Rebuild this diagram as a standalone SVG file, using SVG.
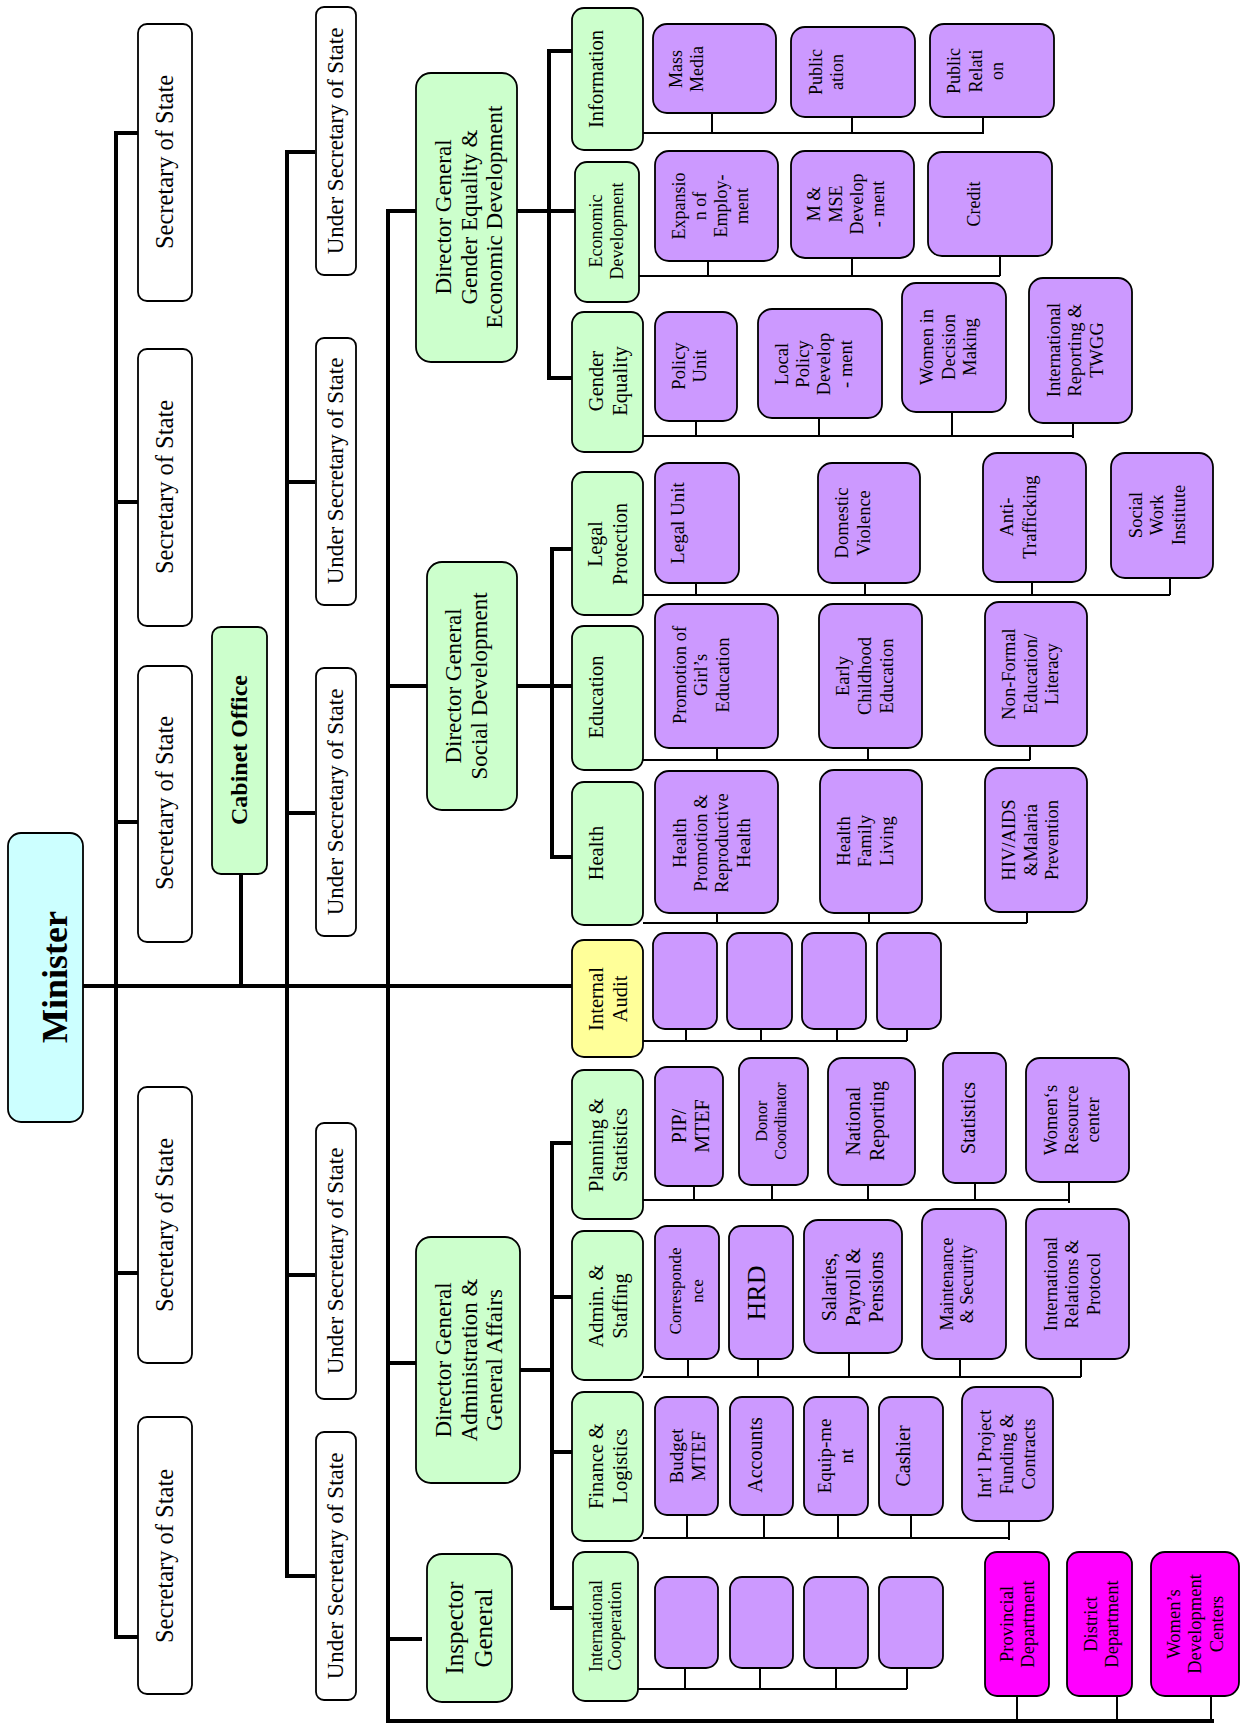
<svg xmlns="http://www.w3.org/2000/svg" width="1242" height="1724" viewBox="0 0 1242 1724">
<style>
rect{stroke:#000;stroke-width:1.8}
.w{fill:#fff}.g{fill:#CCFFCC}.p{fill:#CC99FF}.y{fill:#FFFF99}.c{fill:#CCFFCC}.m{fill:#FF00FF}
.c{fill:#CCFFFF}
text{font-family:"Liberation Serif","Times New Roman",serif;text-anchor:middle;fill:#000}
.b{font-weight:bold}
.thick{stroke:#000;stroke-width:4;fill:none;stroke-linecap:square}
.thin{stroke:#000;stroke-width:2;fill:none}
</style>
<rect width="1242" height="1724" style="fill:#fff;stroke:none"/>
<g id="connectors">
<path class="thick" d="M83,986H572"/>
<path class="thick" d="M138,133H116V1637H138M116,502H138M116,822H138M116,1273H138"/>
<path class="thick" d="M241,874V986"/>
<path class="thick" d="M313,152H287V1576H313M287,482H313M287,813H313M287,1275H313"/>
<path class="thick" d="M415,211H388V1721H1212M388,686H427M388,1363H416M388,1639H420"/>
<path class="thick" d="M517,211H575M572,51H549V378H572"/>
<path class="thick" d="M517,686H572M572,549H552V857H572"/>
<path class="thick" d="M520,1370H552M572,1143H552V1608H573M552,1297H572M552,1452H572"/>
<path class="thin" d="M643,133H984M712,113V133M852,117V133M983,117V133"/>
<path class="thin" d="M639,276H1000M708,261V276M852,258V276M1000,256V276"/>
<path class="thin" d="M643,436H1074M696,421V436M819,418V436M952,412V436M1073,423V438"/>
<path class="thin" d="M643,595H1170M696,583V595M865,583V595M1032,582V595M1170,578V595"/>
<path class="thin" d="M643,760H1030M717,748V760M868,748V760M1030,746V760"/>
<path class="thin" d="M643,923H1027M717,913V923M869,913V923M1027,912V923"/>
<path class="thin" d="M643,1041H907M686,1029V1041M761,1029V1041M837,1029V1041M907,1029V1041"/>
<path class="thin" d="M643,1200H1069M694,1186V1200M772,1185V1200M868,1185V1200M975,1183V1200M1069,1182V1203"/>
<path class="thin" d="M643,1377H1081M688,1359V1377M758,1359V1377M849,1353V1377M960,1359V1377M1081,1359V1377"/>
<path class="thin" d="M643,1538H1009M687,1515V1538M764,1515V1538M838,1515V1538M911,1515V1538M1009,1521V1540"/>
<path class="thin" d="M638,1689H907M685,1668V1689M760,1668V1689M836,1668V1689M907,1668V1689"/>
<path class="thin" d="M1017,1696V1721M1117,1696V1721M1211,1696V1721"/>
</g>
<g id="minister"><rect class="c" x="8" y="833" width="75" height="289" rx="13"/><text class="b" font-size="36" transform="translate(0,977) rotate(-90)"><tspan x="0" y="67">Minister</tspan></text></g>
<g id="sos1"><rect class="w" x="138" y="24" width="54" height="277" rx="9"/><text font-size="24.5" transform="translate(0,162) rotate(-90)"><tspan x="0" y="173">Secretary of State</tspan></text></g>
<g id="sos2"><rect class="w" x="138" y="349" width="54" height="277" rx="9"/><text font-size="24.5" transform="translate(0,487) rotate(-90)"><tspan x="0" y="173">Secretary of State</tspan></text></g>
<g id="sos3"><rect class="w" x="138" y="666" width="54" height="276" rx="9"/><text font-size="24.5" transform="translate(0,803) rotate(-90)"><tspan x="0" y="173">Secretary of State</tspan></text></g>
<g id="sos4"><rect class="w" x="138" y="1087" width="54" height="276" rx="9"/><text font-size="24.5" transform="translate(0,1225) rotate(-90)"><tspan x="0" y="173">Secretary of State</tspan></text></g>
<g id="sos5"><rect class="w" x="138" y="1417" width="54" height="277" rx="9"/><text font-size="24.5" transform="translate(0,1556) rotate(-90)"><tspan x="0" y="173">Secretary of State</tspan></text></g>
<g id="cabinet"><rect class="g" x="212" y="627" width="55" height="247" rx="9"/><text class="b" font-size="24" transform="translate(0,750) rotate(-90)"><tspan x="0" y="247">Cabinet Office</tspan></text></g>
<g id="usos1"><rect class="w" x="316" y="7" width="40" height="268" rx="8"/><text font-size="23" transform="translate(0,141) rotate(-90)"><tspan x="0" y="343">Under Secretary of State</tspan></text></g>
<g id="usos2"><rect class="w" x="316" y="338" width="40" height="267" rx="8"/><text font-size="23" transform="translate(0,471) rotate(-90)"><tspan x="0" y="343">Under Secretary of State</tspan></text></g>
<g id="usos3"><rect class="w" x="316" y="668" width="40" height="268" rx="8"/><text font-size="23" transform="translate(0,802) rotate(-90)"><tspan x="0" y="343">Under Secretary of State</tspan></text></g>
<g id="usos4"><rect class="w" x="316" y="1123" width="40" height="276" rx="8"/><text font-size="23" transform="translate(0,1261) rotate(-90)"><tspan x="0" y="343">Under Secretary of State</tspan></text></g>
<g id="usos5"><rect class="w" x="316" y="1432" width="40" height="268" rx="8"/><text font-size="23" transform="translate(0,1566) rotate(-90)"><tspan x="0" y="343">Under Secretary of State</tspan></text></g>
<g id="dg-gender"><rect class="g" x="416" y="73" width="101" height="289" rx="15"/><text font-size="23" transform="translate(0,217) rotate(-90)"><tspan x="0" y="451">Director General</tspan><tspan x="0" y="477">Gender Equality &amp;</tspan><tspan x="0" y="502">Economic Development</tspan></text></g>
<g id="dg-social"><rect class="g" x="427" y="562" width="90" height="248" rx="15"/><text font-size="23" transform="translate(0,686) rotate(-90)"><tspan x="0" y="461">Director General</tspan><tspan x="0" y="487">Social Development</tspan></text></g>
<g id="dg-admin"><rect class="g" x="416" y="1237" width="104" height="246" rx="15"/><text font-size="23" transform="translate(0,1360) rotate(-90)"><tspan x="0" y="451">Director General</tspan><tspan x="0" y="477">Administration &amp;</tspan><tspan x="0" y="502">General Affairs</tspan></text></g>
<g id="inspector"><rect class="g" x="427" y="1554" width="85" height="148" rx="15"/><text font-size="25" transform="translate(0,1628) rotate(-90)"><tspan x="0" y="463">Inspector</tspan><tspan x="0" y="492">General</tspan></text></g>
<g id="information"><rect class="g" x="572" y="8" width="71" height="142" rx="12"/><text font-size="20.5" transform="translate(0,79) rotate(-90)"><tspan x="0" y="603">Information</tspan></text></g>
<g id="econ-dev"><rect class="g" x="575" y="162" width="64" height="140" rx="12"/><text font-size="18" transform="translate(0,231) rotate(-90)"><tspan x="0" y="602">Economic</tspan><tspan x="0" y="623">Development</tspan></text></g>
<g id="gender-eq"><rect class="g" x="572" y="312" width="71" height="140" rx="12"/><text font-size="20.5" transform="translate(0,381) rotate(-90)"><tspan x="0" y="603">Gender</tspan><tspan x="0" y="627">Equality</tspan></text></g>
<g id="legal"><rect class="g" x="572" y="472" width="71" height="143" rx="12"/><text font-size="20" transform="translate(0,544) rotate(-90)"><tspan x="0" y="602">Legal</tspan><tspan x="0" y="627">Protection</tspan></text></g>
<g id="education"><rect class="g" x="572" y="626" width="71" height="144" rx="12"/><text font-size="20.5" transform="translate(0,697) rotate(-90)"><tspan x="0" y="603">Education</tspan></text></g>
<g id="health"><rect class="g" x="572" y="782" width="71" height="143" rx="12"/><text font-size="20.5" transform="translate(0,853) rotate(-90)"><tspan x="0" y="603">Health</tspan></text></g>
<g id="audit"><rect class="y" x="572" y="940" width="71" height="117" rx="12"/><text font-size="20.5" transform="translate(0,999) rotate(-90)"><tspan x="0" y="603">Internal</tspan><tspan x="0" y="627">Audit</tspan></text></g>
<g id="planning"><rect class="g" x="572" y="1070" width="71" height="149" rx="12"/><text font-size="20.5" transform="translate(0,1145) rotate(-90)"><tspan x="0" y="603">Planning &amp;</tspan><tspan x="0" y="627">Statistics</tspan></text></g>
<g id="admin"><rect class="g" x="572" y="1231" width="71" height="149" rx="12"/><text font-size="20.5" transform="translate(0,1306) rotate(-90)"><tspan x="0" y="603">Admin. &amp;</tspan><tspan x="0" y="627">Staffing</tspan></text></g>
<g id="finance"><rect class="g" x="572" y="1392" width="71" height="149" rx="12"/><text font-size="20.5" transform="translate(0,1466) rotate(-90)"><tspan x="0" y="603">Finance &amp;</tspan><tspan x="0" y="627">Logistics</tspan></text></g>
<g id="intl-coop"><rect class="g" x="573" y="1552" width="65" height="149" rx="12"/><text font-size="18" transform="translate(0,1626) rotate(-90)"><tspan x="0" y="602">International</tspan><tspan x="0" y="621">Cooperation</tspan></text></g>
<g id="mass-media"><rect class="p" x="653" y="24" width="123" height="89" rx="14"/><text font-size="18" transform="translate(0,69) rotate(-90)"><tspan x="0" y="682">Mass</tspan><tspan x="0" y="703">Media</tspan></text></g>
<g id="publication"><rect class="p" x="791" y="27" width="124" height="90" rx="14"/><text font-size="18" transform="translate(0,72) rotate(-90)"><tspan x="0" y="822">Public</tspan><tspan x="0" y="843">ation</tspan></text></g>
<g id="public-relation"><rect class="p" x="930" y="24" width="124" height="93" rx="14"/><text font-size="18" transform="translate(0,71) rotate(-90)"><tspan x="0" y="960">Public</tspan><tspan x="0" y="982">Relati</tspan><tspan x="0" y="1003">on</tspan></text></g>
<g id="expansion"><rect class="p" x="655" y="151" width="123" height="110" rx="14"/><text font-size="18" transform="translate(0,206) rotate(-90)"><tspan x="0" y="685">Expansio</tspan><tspan x="0" y="706">n of</tspan><tspan x="0" y="727">Employ-</tspan><tspan x="0" y="748">ment</tspan></text></g>
<g id="mmse"><rect class="p" x="791" y="151" width="123" height="107" rx="14"/><text font-size="18" transform="translate(0,204) rotate(-90)"><tspan x="0" y="820">M &amp;</tspan><tspan x="0" y="842">MSE</tspan><tspan x="0" y="863">Develop</tspan><tspan x="0" y="884">- ment</tspan></text></g>
<g id="credit"><rect class="p" x="928" y="152" width="124" height="104" rx="14"/><text font-size="18" transform="translate(0,204) rotate(-90)"><tspan x="0" y="980">Credit</tspan></text></g>
<g id="policy-unit"><rect class="p" x="655" y="312" width="82" height="109" rx="14"/><text font-size="18.5" transform="translate(0,366) rotate(-90)"><tspan x="0" y="685">Policy</tspan><tspan x="0" y="706">Unit</tspan></text></g>
<g id="local-policy"><rect class="p" x="758" y="309" width="124" height="109" rx="14"/><text font-size="18.5" transform="translate(0,364) rotate(-90)"><tspan x="0" y="788">Local</tspan><tspan x="0" y="809">Policy</tspan><tspan x="0" y="830">Develop</tspan><tspan x="0" y="852">- ment</tspan></text></g>
<g id="women-decision"><rect class="p" x="902" y="283" width="104" height="129" rx="14"/><text font-size="18.5" transform="translate(0,347) rotate(-90)"><tspan x="0" y="933">Women in</tspan><tspan x="0" y="955">Decision</tspan><tspan x="0" y="976">Making</tspan></text></g>
<g id="intl-reporting"><rect class="p" x="1029" y="278" width="103" height="145" rx="14"/><text font-size="18.5" transform="translate(0,350) rotate(-90)"><tspan x="0" y="1060">International</tspan><tspan x="0" y="1081">Reporting &amp;</tspan><tspan x="0" y="1103">TWGG</tspan></text></g>
<g id="legal-unit"><rect class="p" x="655" y="463" width="84" height="120" rx="14"/><text font-size="19" transform="translate(0,523) rotate(-90)"><tspan x="0" y="684">Legal Unit</tspan></text></g>
<g id="domestic"><rect class="p" x="818" y="463" width="102" height="120" rx="14"/><text font-size="18.5" transform="translate(0,523) rotate(-90)"><tspan x="0" y="848">Domestic</tspan><tspan x="0" y="870">Violence</tspan></text></g>
<g id="anti-trafficking"><rect class="p" x="983" y="453" width="103" height="129" rx="14"/><text font-size="18.5" transform="translate(0,517) rotate(-90)"><tspan x="0" y="1013">Anti-</tspan><tspan x="0" y="1036">Trafficking</tspan></text></g>
<g id="social-work"><rect class="p" x="1111" y="453" width="102" height="125" rx="14"/><text font-size="18.5" transform="translate(0,515) rotate(-90)"><tspan x="0" y="1142">Social</tspan><tspan x="0" y="1163">Work</tspan><tspan x="0" y="1185">Institute</tspan></text></g>
<g id="girls-edu"><rect class="p" x="655" y="604" width="123" height="144" rx="14"/><text font-size="18.5" transform="translate(0,675) rotate(-90)"><tspan x="0" y="686">Promotion of</tspan><tspan x="0" y="707">Girl’s</tspan><tspan x="0" y="729">Education</tspan></text></g>
<g id="early-child"><rect class="p" x="819" y="604" width="103" height="144" rx="14"/><text font-size="18.5" transform="translate(0,676) rotate(-90)"><tspan x="0" y="849">Early</tspan><tspan x="0" y="871">Childhood</tspan><tspan x="0" y="893">Education</tspan></text></g>
<g id="non-formal"><rect class="p" x="985" y="602" width="102" height="144" rx="14"/><text font-size="18.5" transform="translate(0,674) rotate(-90)"><tspan x="0" y="1015">Non-Formal</tspan><tspan x="0" y="1037">Education/</tspan><tspan x="0" y="1058">Literacy</tspan></text></g>
<g id="health-promo"><rect class="p" x="655" y="771" width="123" height="142" rx="14"/><text font-size="18.5" transform="translate(0,843) rotate(-90)"><tspan x="0" y="686">Health</tspan><tspan x="0" y="707">Promotion &amp;</tspan><tspan x="0" y="728">Reproductive</tspan><tspan x="0" y="750">Health</tspan></text></g>
<g id="family-living"><rect class="p" x="820" y="770" width="102" height="143" rx="14"/><text font-size="18.5" transform="translate(0,841) rotate(-90)"><tspan x="0" y="850">Health</tspan><tspan x="0" y="871">Family</tspan><tspan x="0" y="893">Living</tspan></text></g>
<g id="hiv"><rect class="p" x="985" y="768" width="102" height="144" rx="14"/><text font-size="18.5" transform="translate(0,840) rotate(-90)"><tspan x="0" y="1015">HIV/AIDS</tspan><tspan x="0" y="1037">&amp;Malaria</tspan><tspan x="0" y="1058">Prevention</tspan></text></g>
<g id="audit-1"><rect class="p" x="653" y="933" width="64" height="96" rx="12"/></g>
<g id="audit-2"><rect class="p" x="727" y="933" width="65" height="96" rx="12"/></g>
<g id="audit-3"><rect class="p" x="802" y="933" width="64" height="96" rx="12"/></g>
<g id="audit-4"><rect class="p" x="877" y="933" width="64" height="96" rx="12"/></g>
<g id="pip"><rect class="p" x="655" y="1067" width="68" height="119" rx="12"/><text font-size="20" transform="translate(0,1126) rotate(-90)"><tspan x="0" y="686">PIP/</tspan><tspan x="0" y="709">MTEF</tspan></text></g>
<g id="donor"><rect class="p" x="739" y="1058" width="69" height="127" rx="12"/><text font-size="16" transform="translate(0,1121) rotate(-90)"><tspan x="0" y="767">Donor</tspan><tspan x="0" y="786">Coordinator</tspan></text></g>
<g id="national"><rect class="p" x="828" y="1058" width="87" height="127" rx="14"/><text font-size="20" transform="translate(0,1121) rotate(-90)"><tspan x="0" y="860">National</tspan><tspan x="0" y="884">Reporting</tspan></text></g>
<g id="statistics"><rect class="p" x="943" y="1053" width="63" height="130" rx="12"/><text font-size="20" transform="translate(0,1118) rotate(-90)"><tspan x="0" y="975">Statistics</tspan></text></g>
<g id="resource"><rect class="p" x="1026" y="1058" width="103" height="124" rx="14"/><text font-size="18.5" transform="translate(0,1120) rotate(-90)"><tspan x="0" y="1057">Women‘s</tspan><tspan x="0" y="1078">Resource</tspan><tspan x="0" y="1099">center</tspan></text></g>
<g id="corr"><rect class="p" x="655" y="1226" width="64" height="133" rx="12"/><text font-size="17" transform="translate(0,1291) rotate(-90)"><tspan x="0" y="681">Corresponde</tspan><tspan x="0" y="703">nce</tspan></text></g>
<g id="hrd"><rect class="p" x="729" y="1226" width="64" height="133" rx="12"/><text font-size="26" transform="translate(0,1293) rotate(-90)"><tspan x="0" y="765">HRD</tspan></text></g>
<g id="salaries"><rect class="p" x="804" y="1220" width="98" height="133" rx="14"/><text font-size="20" transform="translate(0,1287) rotate(-90)"><tspan x="0" y="836">Salaries,</tspan><tspan x="0" y="860">Payroll &amp;</tspan><tspan x="0" y="883">Pensions</tspan></text></g>
<g id="maintenance"><rect class="p" x="922" y="1209" width="84" height="150" rx="14"/><text font-size="18" transform="translate(0,1284) rotate(-90)"><tspan x="0" y="953">Maintenance</tspan><tspan x="0" y="973">&amp; Security</tspan></text></g>
<g id="intl-relations"><rect class="p" x="1026" y="1209" width="103" height="150" rx="14"/><text font-size="18.5" transform="translate(0,1284) rotate(-90)"><tspan x="0" y="1057">International</tspan><tspan x="0" y="1078">Relations &amp;</tspan><tspan x="0" y="1100">Protocol</tspan></text></g>
<g id="budget"><rect class="p" x="655" y="1397" width="63" height="118" rx="12"/><text font-size="19" transform="translate(0,1456) rotate(-90)"><tspan x="0" y="683">Budget</tspan><tspan x="0" y="705">MTEF</tspan></text></g>
<g id="accounts"><rect class="p" x="730" y="1397" width="63" height="118" rx="12"/><text font-size="20" transform="translate(0,1455) rotate(-90)"><tspan x="0" y="762">Accounts</tspan></text></g>
<g id="equipment"><rect class="p" x="804" y="1397" width="64" height="118" rx="12"/><text font-size="19" transform="translate(0,1456) rotate(-90)"><tspan x="0" y="831">Equip-me</tspan><tspan x="0" y="853">nt</tspan></text></g>
<g id="cashier"><rect class="p" x="879" y="1397" width="64" height="118" rx="12"/><text font-size="20" transform="translate(0,1456) rotate(-90)"><tspan x="0" y="910">Cashier</tspan></text></g>
<g id="intl-project"><rect class="p" x="962" y="1387" width="91" height="134" rx="14"/><text font-size="18.5" transform="translate(0,1454) rotate(-90)"><tspan x="0" y="991">Int’l Project</tspan><tspan x="0" y="1013">Funding &amp;</tspan><tspan x="0" y="1035">Contracts</tspan></text></g>
<g id="ic-1"><rect class="p" x="655" y="1577" width="63" height="91" rx="12"/></g>
<g id="ic-2"><rect class="p" x="730" y="1577" width="63" height="91" rx="12"/></g>
<g id="ic-3"><rect class="p" x="804" y="1577" width="64" height="91" rx="12"/></g>
<g id="ic-4"><rect class="p" x="879" y="1577" width="64" height="91" rx="12"/></g>
<g id="provincial"><rect class="m" x="985" y="1552" width="64" height="144" rx="12"/><text font-size="18.5" transform="translate(0,1624) rotate(-90)"><tspan x="0" y="1013">Provincial</tspan><tspan x="0" y="1034">Department</tspan></text></g>
<g id="district"><rect class="m" x="1067" y="1552" width="65" height="144" rx="12"/><text font-size="18.5" transform="translate(0,1624) rotate(-90)"><tspan x="0" y="1097">District</tspan><tspan x="0" y="1118">Department</tspan></text></g>
<g id="wdc"><rect class="m" x="1151" y="1552" width="88" height="144" rx="14"/><text font-size="18.5" transform="translate(0,1624) rotate(-90)"><tspan x="0" y="1180">Women’s</tspan><tspan x="0" y="1201">Development</tspan><tspan x="0" y="1223">Centers</tspan></text></g>
</svg>
